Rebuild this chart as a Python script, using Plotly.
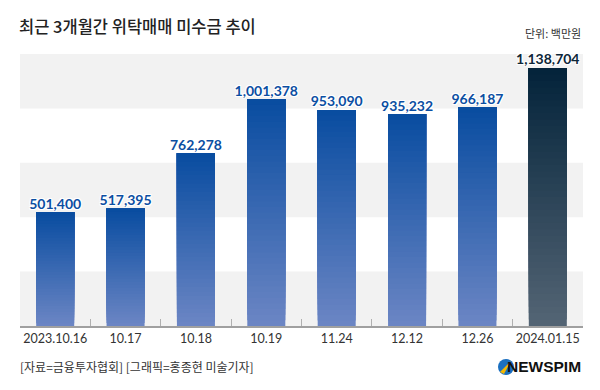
import plotly.graph_objects as go

categories = ["2023.10.16", "10.17", "10.18", "10.19", "11.24", "12.12", "12.26", "2024.01.15"]
values = [501400, 517395, 762278, 1001378, 953090, 935232, 966187, 1138704]
labels = ["501,400", "517,395", "762,278", "1,001,378", "953,090", "935,232", "966,187", "1,138,704"]

# colours per bar: (top, bottom)
blue_top, blue_bot = (8, 76, 160), (108, 134, 196)
dark_top, dark_bot = (3, 35, 58), (84, 101, 117)
grads = [(blue_top, blue_bot)] * 7 + [(dark_top, dark_bot)]
label_colors = ["#0b4ea2"] * 7 + ["#0d2638"]

N = 40
fig = go.Figure()

def lerp(a, b, t):
    return "rgb(%d,%d,%d)" % tuple(round(a[j] + (b[j] - a[j]) * t) for j in range(3))

# gradient: each layer spans from its start to the bar top, drawn bottom-up so no seams
for k in range(N):
    t = (k + 0.5) / N  # 0 bottom -> 1 top
    cols = [lerp(bot, top, t) for (top, bot) in grads]
    fig.add_trace(go.Bar(
        x=categories,
        y=[v * (N - k) / N for v in values],
        base=[v * k / N for v in values],
        marker=dict(color=cols, line=dict(width=0)),
        hoverinfo="skip",
        showlegend=False,
    ))

fig.add_trace(go.Scatter(
    x=categories, y=values, mode="text", text=labels,
    textposition="top center",
    textfont=dict(family="Lato", size=14, color=label_colors, weight="bold",
                  shadow="1px 1px 0 #fff, -1px -1px 0 #fff, 1px -1px 0 #fff, -1px 1px 0 #fff"),
    hoverinfo="skip", showlegend=False, cliponaxis=False,
))

shapes = []
for lo in [0, 480000, 960000]:
    shapes.append(dict(type="rect", xref="paper", yref="y", x0=0, x1=1, y0=lo, y1=lo + 240000,
                       fillcolor="#f2f2f2", line=dict(width=0), layer="below"))

fig.update_layout(
    width=600, height=390,
    margin=dict(l=20, r=17, t=54, b=64, autoexpand=False),
    paper_bgcolor="white", plot_bgcolor="white",
    barmode="overlay", bargap=0.46,
    shapes=shapes,
    xaxis=dict(
        type="category", showgrid=False, showline=True, linecolor="#a0a0a0", linewidth=1.5,
        ticks="inside", tickson="boundaries", ticklen=7, tickcolor="#b0b0b0", tickwidth=1,
        tickangle=0, automargin=False,
        tickfont=dict(family="Lato", size=12.5, color="#333"),
        fixedrange=True,
    ),
    yaxis=dict(range=[0, 1200000], showgrid=False, zeroline=False, showticklabels=False,
               fixedrange=True, automargin=False),
    font=dict(family="Noto Sans CJK KR"),
)

fig.add_annotation(text="최근 3개월간 위탁매매 미수금 추이", xref="paper", yref="paper",
                   x=-0.005, y=1.0, yshift=28, xanchor="left", yanchor="middle", showarrow=False,
                   font=dict(family="Noto Sans CJK KR", size=16.5, color="#222", weight=500))
fig.add_annotation(text="단위: 백만원", xref="paper", yref="paper",
                   x=1.0, y=1.0, yshift=21, xanchor="right", yanchor="middle", showarrow=False,
                   font=dict(family="Noto Sans CJK KR", size=11, color="#333"))
fig.add_annotation(text="[자료=금융투자협회] [그래픽=홍종현 미술기자]", xref="paper", yref="paper",
                   x=-0.003, y=0, yshift=-40, xanchor="left", yanchor="middle", showarrow=False,
                   font=dict(family="Noto Sans CJK KR", size=12, color="#333"))
fig.add_annotation(text="<b>NEWSPIM</b>", xref="paper", yref="paper",
                   x=1.0, y=0, yshift=-40, xanchor="right", yanchor="middle", showarrow=False,
                   font=dict(family="Liberation Sans Narrow, Arial", size=15.5, color="#111"))

# logo mark (blue circle with yellow wedge)
fig.add_shape(type="circle", xref="paper", yref="paper",
              x0=(498 - 20) / 563, x1=(514 - 20) / 563,
              y0=(326 - 375) / 272, y1=(326 - 359) / 272,
              fillcolor="#1a6fc0", line=dict(width=0))
fig.add_shape(type="path", xref="paper", yref="paper",
              path="M %f %f L %f %f L %f %f Z" % (
                  (500 - 20) / 563, (326 - 372) / 272,
                  (511 - 20) / 563, (326 - 361) / 272,
                  (504 - 20) / 563, (326 - 374) / 272),
              fillcolor="#f5b800", line=dict(width=0))

fig.write_html("out.html", config={"displayModeBar": False},
               post_script="document.body.style.margin='0';")
